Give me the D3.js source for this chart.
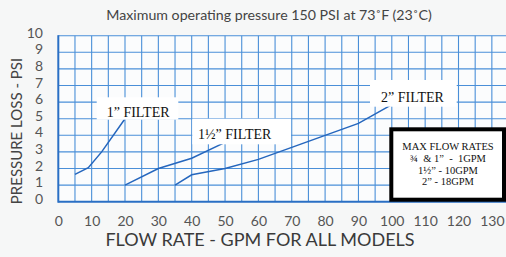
<!DOCTYPE html>
<html><head><meta charset="utf-8">
<script src="https://cdn.jsdelivr.net/npm/d3@7"></script>
<style>html,body{margin:0;padding:0;background:#f6f7f7;}svg{display:block;}</style>
</head><body>
<svg id="c" width="506" height="257"></svg>
<script>
const title = "Maximum operating pressure 150 PSI at 73˚F (23˚C)";
const xTitle = "FLOW RATE - GPM FOR ALL MODELS";
const yTitle = "PRESSURE LOSS - PSI";
const xTicks = [0,10,20,30,40,50,60,70,80,90,100,110,120,130];
const yTicks = [0,1,2,3,4,5,6,7,8,9,10];
const filter1 = [[5,1.65],[9,2.05],[13,3.0],[20,5.0]];
const filter15 = [[20,1.0],[30,2.0],[40,2.62],[50,3.57]];
const filter2 = [[35,1.0],[40,1.62],[50,2.0],[60,2.55],[90,4.72],[100,5.85]];
const seriesLabels = ["1” FILTER","1½” FILTER","2” FILTER"];
const maxFlowLines = ["MAX FLOW RATES","¾  & 1”  -  1GPM","1½” - 10GPM","2” - 18GPM"];

const svg = d3.select("#c");
const x = d3.scaleLinear().domain([0,135]).range([58.3, 58.3+135*3.335]);
const y = d3.scaleLinear().domain([0,10]).range([201.7, 35.7]);
const W = 506;

// plot background
svg.append("rect").attr("x",x(0)).attr("y",y(10)).attr("width",W-x(0)).attr("height",y(0)-y(10)).attr("fill","#fbfcfd");

const grid = svg.append("g").attr("stroke","#4a8fd8").attr("stroke-width",1.1);
d3.range(5,136,5).forEach(v=>{
  if (x(v) > W) return;
  grid.append("line").attr("x1",x(v)).attr("x2",x(v)).attr("y1",y(10)).attr("y2",y(0));
});
yTicks.filter(v=>v>0).forEach(v=>{
  grid.append("line").attr("x1",x(0)).attr("x2",W).attr("y1",y(v)).attr("y2",y(v));
});
// axes lines
svg.append("line").attr("x1",x(0)).attr("x2",x(0)).attr("y1",y(10)-0.5).attr("y2",y(0)+1).attr("stroke","#2a6fc4").attr("stroke-width",2);
svg.append("line").attr("x1",x(0)).attr("x2",W).attr("y1",y(0)).attr("y2",y(0)).attr("stroke","#2a6fc4").attr("stroke-width",2);

// tick labels via axes
const sans = "Lato, 'Open Sans', sans-serif";
const xa = svg.append("g").attr("transform",`translate(0,${y(0)})`)
  .call(d3.axisBottom(x).tickValues(xTicks).tickSize(0).tickPadding(14));
xa.select(".domain").remove();
xa.selectAll("text").attr("font-family",sans).attr("font-size",14).attr("fill","#555");
const ya = svg.append("g").attr("transform",`translate(43,0)`)
  .call(d3.axisLeft(y).tickValues(yTicks).tickSize(0).tickPadding(0));
ya.select(".domain").remove();
ya.selectAll("text").attr("font-family",sans).attr("font-size",14).attr("fill","#555").attr("dy","0.12em");

// titles
svg.append("text").attr("x",269).attr("y",20).attr("text-anchor","middle").attr("font-family",sans).attr("font-size",14.2).attr("fill","#444").text(title);
svg.append("text").attr("x",260).attr("y",245.5).attr("text-anchor","middle").attr("font-family",sans).attr("font-size",18).attr("fill","#3a3a3a").text(xTitle);
svg.append("text").attr("transform","translate(22,131) rotate(-90)").attr("text-anchor","middle").attr("font-family",sans).attr("font-size",15).attr("fill","#444").text(yTitle);

// lines
const line = d3.line().x(d=>x(d[0])).y(d=>y(d[1]));
[filter1,filter15,filter2].forEach(s=>{
  svg.append("path").attr("d",line(s)).attr("fill","none").attr("stroke","#2566bd").attr("stroke-width",1.5);
});

// series label boxes
const serif = "'Liberation Serif','Times New Roman',serif";
const boxes = [
  {x:96.7,y:97.3,w:81.6,h:22.4,tx:106.7,ty:116.7},
  {x:192.3,y:118.7,w:98.7,h:25.6,tx:198,ty:138.7},
  {x:370,y:80,w:86.7,h:26.7,tx:381,ty:102.3}
];
boxes.forEach((b,i)=>{
  svg.append("rect").attr("x",b.x).attr("y",b.y).attr("width",b.w).attr("height",b.h).attr("fill","#fff");
  svg.append("text").attr("x",b.tx).attr("y",b.ty).attr("font-family",serif).attr("font-size",14).attr("fill","#111").text(seriesLabels[i]);
});

// max flow box
svg.append("rect").attr("x",391.3).attr("y",129.3).attr("width",112.7).attr("height",70.4).attr("fill","#fff").attr("stroke","#000").attr("stroke-width",4);
const mtY = [149.5,161.7,173.5,185.2];
maxFlowLines.forEach((t,i)=>{
  svg.append("text").attr("x",448).attr("y",mtY[i]).attr("text-anchor","middle").attr("font-family",serif).attr("font-size",10.5).attr("fill","#111").style("white-space","pre").text(t);
});
</script>
</body></html>
